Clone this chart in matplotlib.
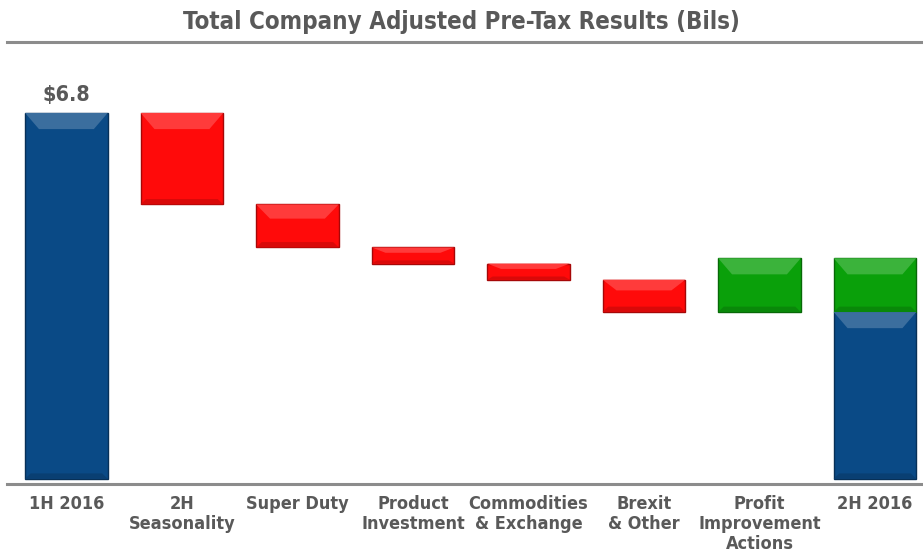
import numpy as np
import matplotlib
matplotlib.use('Agg')
import matplotlib.pyplot as plt
from matplotlib.patches import Polygon

# waterfall data (billions)
categories = ['1H 2016', '2H\nSeasonality', 'Super Duty', 'Product\nInvestment',
              'Commodities\n& Exchange', 'Brexit\n& Other', 'Profit\nImprovement\nActions',
              '2H 2016']
start_value = 6.8
deltas = [-1.7, -0.8, -0.3, -0.3, -0.6, 1.0]
start_label = '$6.8'

blue = '#0A4A86'
red = '#FF0A0A'
green = '#0AA00A'
text_col = '#595959'
line_col = '#8C8C8C'

plt.rcParams['font.family'] = ['DejaVu Sans']
plt.rcParams['font.stretch'] = 'condensed'
plt.rcParams['font.weight'] = 'bold'

fig = plt.figure(figsize=(9.23, 5.52), dpi=100)
ax = fig.add_axes([7 / 923, 1 - 484 / 552, 916 / 923, (484 - 42) / 552])

W = 0.715


def light(c, f):
    c = np.array(matplotlib.colors.to_rgb(c))
    return tuple(c + (1 - c) * f)


def dark(c, f):
    c = np.array(matplotlib.colors.to_rgb(c))
    return tuple(c * (1 - f))


def bevel_bar(x, bottom, height, color):
    ax.bar(x, height, W, bottom=bottom, color=color, edgecolor=dark(color, 0.35),
           linewidth=1.0, zorder=2)
    top = bottom + height
    d = min(0.3, height * 0.33)
    dx = 0.12
    x0, x1 = x - W / 2, x + W / 2
    # lighter top bevel
    ax.add_patch(Polygon([(x0, top), (x1, top), (x1 - dx, top - d), (x0 + dx, top - d)],
                         closed=True, facecolor=light(color, 0.2), edgecolor='none', zorder=3))
    # darker bottom bevel
    db = min(0.1, height * 0.2)
    ax.add_patch(Polygon([(x0, bottom), (x1, bottom), (x1 - dx * 0.4, bottom + db),
                          (x0 + dx * 0.4, bottom + db)],
                         closed=True, facecolor=dark(color, 0.15), edgecolor='none', zorder=3))


x = np.arange(len(categories))

# first total
bevel_bar(x[0], 0, start_value, blue)
level = start_value
for i, d in enumerate(deltas):
    col = red if d < 0 else green
    if d < 0:
        bevel_bar(x[i + 1], level + d, -d, col)
    else:
        bevel_bar(x[i + 1], level, d, col)
    level += d

# final bar: base plus the improvement on top
base_2h = start_value + sum(v for v in deltas if v < 0)
gain_2h = sum(v for v in deltas if v > 0)
bevel_bar(x[-1], 0, base_2h, blue)
bevel_bar(x[-1], base_2h, gain_2h, green)

ax.text(x[0], start_value + 0.15, start_label, ha='center', va='bottom',
        fontsize=15.5, color=text_col, fontweight='bold')

ax.set_xlim(-(66.4 - 7) / 115.5, 7 + (923 - 875) / 115.5)
ax.set_ylim(-(484 - 478.8) / 53.8, (478.8 - 42) / 53.8)

ax.set_xticks(x)
ax.set_xticklabels(categories, fontsize=13, color=text_col, fontweight='bold',
                   linespacing=1.15, va='top')
ax.tick_params(axis='x', length=0, pad=8)
ax.set_yticks([])
for s in ['left', 'right']:
    ax.spines[s].set_visible(False)
for s in ['top', 'bottom']:
    ax.spines[s].set_color(line_col)
    ax.spines[s].set_linewidth(2.2)

fig.text(0.5, 1 - 22 / 552, 'Total Company Adjusted Pre-Tax Results (Bils)',
         ha='center', va='center', fontsize=17.3, color=text_col, fontweight='bold')

fig.savefig('out.png', dpi=100)
